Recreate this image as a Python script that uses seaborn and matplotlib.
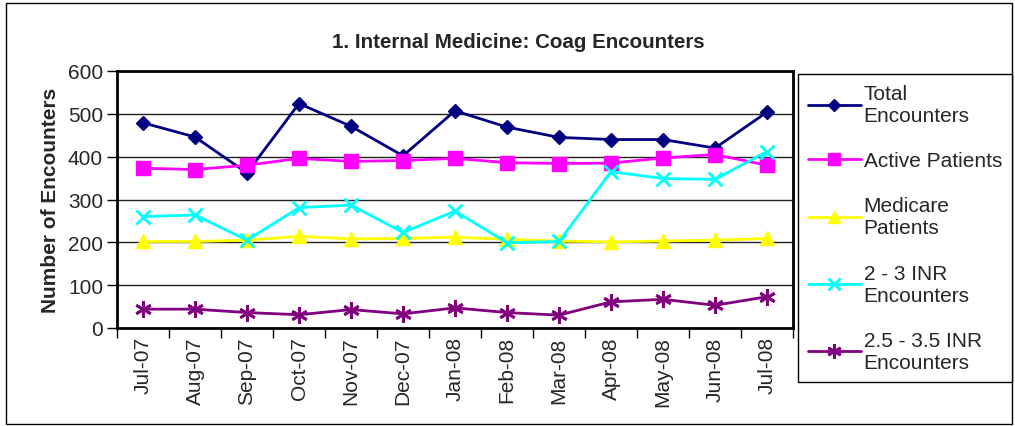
import numpy as np
import pandas as pd
import matplotlib
matplotlib.use("Agg")
import matplotlib.pyplot as plt
import seaborn as sns
from matplotlib.lines import Line2D
from matplotlib.patches import Rectangle

months = ["Jul-07", "Aug-07", "Sep-07", "Oct-07", "Nov-07", "Dec-07", "Jan-08",
          "Feb-08", "Mar-08", "Apr-08", "May-08", "Jun-08", "Jul-08"]

total_encounters = [479, 446, 362, 524, 471, 402, 507, 469, 445, 440, 440, 420, 504]
active_patients = [373, 370, 380, 396, 389, 391, 396, 386, 384, 385, 397, 405, 380]
medicare_patients = [202, 202, 205, 214, 208, 209, 212, 207, 203, 201, 203, 205, 209]
inr_2_3 = [260, 264, 205, 281, 287, 223, 273, 199, 202, 365, 349, 347, 412]
inr_25_35 = [44, 44, 36, 31, 43, 33, 47, 36, 30, 61, 67, 53, 73]

series_names = ["Total\nEncounters", "Active Patients", "Medicare\nPatients",
                "2 - 3 INR\nEncounters", "2.5 - 3.5 INR\nEncounters"]
series_values = [total_encounters, active_patients, medicare_patients, inr_2_3, inr_25_35]
colors = ["#000080", "#FF00FF", "#FFFF00", "#00FFFF", "#800080"]
markers = ["D", "s", "^", "x", (6, 2, 0)]
msizes = [7, 10, 10, 10, 12]

sns.set_style("white")
plt.rcParams["font.family"] = ["Liberation Sans", "DejaVu Sans"]

fig = plt.figure(figsize=(10.15, 4.27), dpi=100)
ax = fig.add_axes([117 / 1015, 1 - 329 / 427, (793 - 117) / 1015, (329 - 72) / 427])

for name, vals, c, m, ms in zip(series_names, series_values, colors, markers, msizes):
    df = pd.DataFrame({"month": months, "value": vals})
    # line-art markers need a thicker edge to show up
    mew = 2 if m == "x" or isinstance(m, tuple) else 1
    sns.lineplot(data=df, x="month", y="value", ax=ax, color=c, marker=m,
                 markersize=ms, markeredgecolor=c, markeredgewidth=mew,
                 linewidth=2, sort=False, label=name, legend=False)

ax.set_xlim(-0.5, len(months) - 0.5)
ax.set_ylim(0, 600)
ax.set_yticks(range(0, 601, 100))
ax.yaxis.grid(True, color="#222222", linewidth=1)
ax.xaxis.grid(False)
ax.set_axisbelow(True)
for s in ax.spines.values():
    s.set_color("black")
    s.set_linewidth(2)

ax.set_xticks(range(len(months)))
ax.set_xticklabels(months, rotation=90, fontsize=15)
ax.set_xticks(np.arange(-0.5, len(months), 1), minor=True)
ax.tick_params(axis="x", which="major", length=0, pad=6)
ax.tick_params(axis="x", which="minor", length=7, width=1, color="black", direction="out", bottom=True)
ax.tick_params(axis="y", length=7, width=1, color="black", direction="out", labelsize=15, left=True, pad=3)

ax.set_xlabel("")
ax.set_ylabel("Number of Encounters", fontsize=15, fontweight="bold", labelpad=6)
fig.text(518 / 1015, 1 - 42 / 427, "1. Internal Medicine: Coag Encounters",
         ha="center", va="center", fontsize=14.8, fontweight="bold")

handles = [Line2D([], [], color=c, marker=m, markersize=ms * 0.85, linewidth=2,
                  markeredgecolor=c, markeredgewidth=2 if m == "x" or isinstance(m, tuple) else 1)
           for c, m, ms in zip(colors, markers, msizes)]
leg = fig.legend(handles, series_names, loc="upper left",
                 bbox_to_anchor=(798 / 1015, 1 - 75 / 427), fontsize=15,
                 frameon=True, fancybox=False, edgecolor="black", framealpha=1,
                 handlelength=2.5, handletextpad=0.15, labelspacing=1.25,
                 borderpad=0.5, borderaxespad=0)
leg.get_frame().set_linewidth(1)

fig.patches.append(Rectangle((6 / 1015, 2 / 427), 1006 / 1015, 421 / 427,
                             transform=fig.transFigure, fill=False,
                             edgecolor="black", linewidth=1))

fig.savefig("out.png", dpi=100)
